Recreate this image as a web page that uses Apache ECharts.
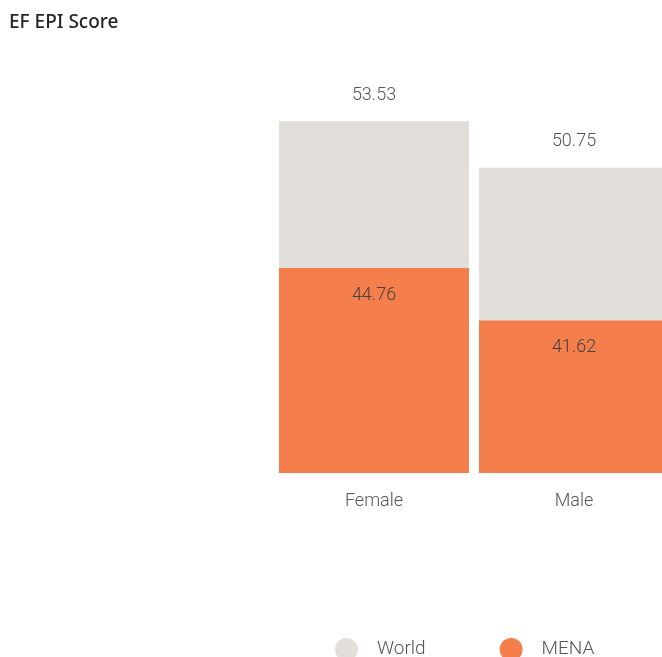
<!DOCTYPE html>
<html>
<head>
<meta charset="utf-8">
<script src="https://cdn.jsdelivr.net/npm/echarts@6/dist/echarts.min.js"></script>
<style>
  html, body { margin: 0; padding: 0; background: #fff; }
  #chart { width: 662px; height: 657px; }
</style>
</head>
<body>
<div id="chart"></div>
<script>
var categories = ['Female', 'Male'];
var worldValues = [53.53, 50.75];
var menaValues = [44.76, 41.62];

var chart = echarts.init(document.getElementById('chart'));

var labelFont = 'Roboto';

var option = {
  backgroundColor: '#fff',
  title: {
    text: 'EF EPI Score',
    left: 4,
    top: 8,
    textStyle: {
      fontFamily: 'Noto Sans',
      fontSize: 19,
      fontWeight: 500,
      color: '#252525'
    }
  },
  legend: {
    data: ['World', 'MENA'],
    left: 330,
    top: 633,
    icon: 'circle',
    itemWidth: 23,
    itemHeight: 23,
    itemGap: 74,
    textStyle: {
      fontFamily: labelFont,
      fontWeight: 300,
      fontSize: 19,
      color: '#555',
      padding: [0, 0, 0, 14]
    }
  },
  grid: {
    left: 274,
    right: -12,
    top: 60,
    bottom: 184,
    outerBoundsMode: 'none'
  },
  xAxis: {
    type: 'category',
    data: categories,
    axisLine: { show: false },
    axisTick: { show: false },
    axisLabel: {
      margin: 19,
      fontFamily: labelFont,
      fontWeight: 300,
      fontSize: 18,
      color: '#555'
    }
  },
  yAxis: {
    type: 'value',
    min: 32.5,
    max: 57.2,
    show: false,
    splitLine: { show: false }
  },
  series: [
    {
      name: 'World',
      type: 'bar',
      data: worldValues,
      barWidth: 190,
      barGap: '-100%',
      itemStyle: { color: '#E2DFDB' },
      label: {
        show: true,
        position: 'top',
        distance: 17,
        fontFamily: labelFont,
        fontWeight: 300,
        fontSize: 18,
        color: '#555'
      }
    },
    {
      name: 'MENA',
      type: 'bar',
      data: menaValues,
      barWidth: 190,
      itemStyle: { color: '#F47F4C' },
      label: {
        show: true,
        position: 'insideTop',
        distance: 18,
        fontFamily: labelFont,
        fontWeight: 300,
        fontSize: 18,
        color: '#444'
      }
    }
  ]
};

chart.setOption(option);
</script>
</body>
</html>
